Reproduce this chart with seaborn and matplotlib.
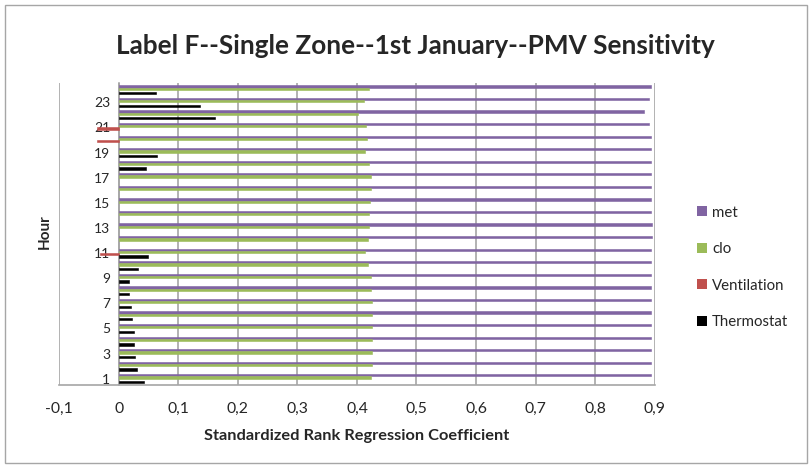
import numpy as np
import pandas as pd
import matplotlib
matplotlib.use('Agg')
import matplotlib.pyplot as plt
from matplotlib.patches import Rectangle
import seaborn as sns

# values
hours = list(range(1, 25))
thermostat = [0.042, 0.031, 0.027, 0.026, 0.025, 0.022, 0.020, 0.018, 0.018, 0.032, 0.049, 0.0,
              0.0, 0.0, 0.0, 0.0, 0.0, 0.046, 0.065, 0.0, 0.0, 0.161, 0.137, 0.062]
ventilation = [0.0, 0.0, 0.0, 0.0, 0.0, 0.0, 0.0, 0.0, 0.0, 0.0, -0.031, 0.0,
               0.0, 0.0, 0.0, 0.0, 0.0, 0.0, 0.0, -0.036, -0.037, 0.0, 0.0, 0.0]
clo = [0.423, 0.425, 0.425, 0.425, 0.425, 0.425, 0.425, 0.424, 0.424, 0.419, 0.413, 0.419,
       0.421, 0.421, 0.422, 0.424, 0.424, 0.420, 0.413, 0.417, 0.416, 0.401, 0.411, 0.421]
met = [0.893, 0.893, 0.893, 0.893, 0.894, 0.894, 0.894, 0.894, 0.894, 0.894, 0.894, 0.895,
       0.895, 0.894, 0.894, 0.894, 0.894, 0.893, 0.893, 0.893, 0.891, 0.882, 0.891, 0.893]

series_names = ['met', 'clo', 'Ventilation', 'Thermostat']
colors = ['#8064A2', '#9BBB59', '#C0504D', '#000000']

df = pd.DataFrame({'Hour': [str(h) for h in hours],
                   'met': met, 'clo': clo,
                   'Ventilation': ventilation, 'Thermostat': thermostat})
long_df = df.melt(id_vars='Hour', var_name='series', value_name='value')

sns.set_style('white')
plt.rcParams['font.family'] = ['Lato', 'DejaVu Sans']

fig = plt.figure(figsize=(8.12, 4.68), dpi=100)
ax = fig.add_axes([59.2 / 812, 1 - 385 / 468, (654.7 - 59.2) / 812, (385 - 83.5) / 468])

order = [str(h) for h in reversed(hours)]
sns.barplot(data=long_df, x='value', y='Hour', hue='series', order=order,
            hue_order=series_names, palette=colors, width=0.72, orient='h',
            saturation=1, errorbar=None, edgecolor='none', linewidth=0,
            legend=False, ax=ax)

# zero bars are not drawn in the reference; give the rest a thin edge of their own colour
for bar in ax.patches:
    if bar.get_width() == 0:
        bar.set_visible(False)
    else:
        bar.set_edgecolor(bar.get_facecolor())
        bar.set_linewidth(0.4)

ax.set_xlim(-0.1, 0.9)
ax.set_ylim(23.5, -0.5)
xt = np.round(np.arange(-0.1, 0.91, 0.1), 1)
ax.set_xticks(xt)
ax.set_xticklabels(['0' if v == 0 else f'{v:.1f}'.replace('.', ',') for v in xt], fontsize=11.3)
odd = [h for h in hours if h % 2 == 1]
ax.set_yticks([24 - h for h in odd])
ax.set_yticklabels([str(h) for h in odd], fontsize=11.3)
ax.set_xlabel('')
ax.set_ylabel('')

ax.grid(axis='x', color='#a6a6a6', linewidth=1.2)
ax.grid(axis='y', visible=False)
ax.set_axisbelow(True)
for s in ['top', 'right']:
    ax.spines[s].set_visible(False)
ax.spines['left'].set_position(('data', 0))
ax.spines['left'].set_color('#a6a6a6')
ax.spines['left'].set_linewidth(1.2)
ax.spines['left'].set_zorder(0.5)
ax.spines['bottom'].set_color('#a6a6a6')
ax.spines['bottom'].set_linewidth(1.2)
ax.tick_params(axis='y', length=0, pad=6)
ax.tick_params(axis='x', length=5, width=1, color='#a6a6a6', pad=7, direction='out')

handles = [Rectangle((0, 0), 1, 1, facecolor=c, edgecolor='none') for c in colors]
ax.legend(handles, series_names, loc='center left', bbox_to_anchor=(697 / 812, 1 - 267.5 / 468),
          bbox_transform=fig.transFigure, frameon=False, fontsize=10.8,
          handlelength=0.65, handleheight=0.65, handletextpad=0.35, labelspacing=1.5,
          borderpad=0, borderaxespad=0)

fig.text(415 / 812, 1 - 45.5 / 468, 'Label F--Single Zone--1st January--PMV Sensitivity',
         ha='center', va='center', fontsize=18.8, fontweight='bold')
fig.text(357 / 812, 1 - 436 / 468, 'Standardized Rank Regression Coefficient',
         ha='center', va='center', fontsize=11.8, fontweight='bold')
fig.text(45 / 812, 1 - 232 / 468, 'Hour', ha='center', va='center', rotation=90,
         fontsize=11, fontweight='bold')

fig.patches.append(Rectangle((5 / 812, 5 / 468), 802 / 812, 458 / 468, transform=fig.transFigure,
                             fill=False, edgecolor='#a6a6a6', linewidth=1))

fig.savefig('out.png', dpi=100)
